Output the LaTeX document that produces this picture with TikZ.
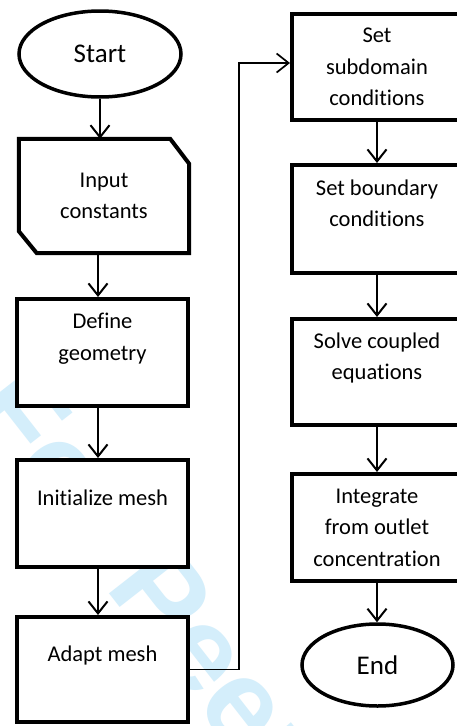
\documentclass[tikz,border=0pt]{standalone}
\usepackage{fontspec}
\setmainfont{Carlito}[Ligatures=NoCommon]
\newfontfamily\markfont{Liberation Sans}
\usetikzlibrary{shapes.geometric,arrows.meta}
\definecolor{markblue}{RGB}{212,238,251}
\begin{document}
\begin{tikzpicture}[x=1pt,y=-1pt,
  boxline/.style={line width=4pt,line join=miter},
  boxtext/.style={font=\fontsize{22.5}{31.5}\selectfont},
  flowbox/.style={boxline,draw,fill=white,rectangle,inner sep=0pt,align=center,boxtext},
  terminal/.style={draw,fill=white,ellipse,line width=3.5pt,inner sep=0pt,
    font=\fontsize{27}{30}\selectfont},
  conn/.style={line width=2pt,-{Straight Barb[length=12pt,width=19pt]}},
  loopline/.style={line width=1.7pt,-{Straight Barb[length=12pt,width=19pt]}}
]
\clip (0,0) rectangle (457,726);
\fill[white] (0,0) rectangle (457,726);

% faint watermark behind the chart
\node[font=\markfont\bfseries\fontsize{120}{120}\selectfont,text=markblue,
  rotate=-52,anchor=base west,inner sep=0pt] (wm) at (-35,409) {For Peer Review};

% left column
\node[terminal,minimum width=162pt,minimum height=86pt] (start) at (100,54) {Start};
\node[rectangle,fill=white,inner sep=0pt,align=center,minimum width=170pt,minimum height=114pt,
  boxtext] (inp) at (104,196) {Input\\constants};
\draw[boxline] (inp.north west) -- ([xshift=-19pt]inp.north east)
  -- ([yshift=-25pt]inp.north east) -- (inp.south east)
  -- ([xshift=18pt]inp.south west) -- ([yshift=22pt]inp.south west) -- cycle;
\node[flowbox,minimum width=171pt,minimum height=107pt] (geo) at (102.5,352.5) {Define\\geometry\\\mbox{}};
\node[flowbox,minimum width=171pt,minimum height=107pt] (init) at (102.5,513.5) {Initialize mesh\\\mbox{}};
\node[flowbox,minimum width=171pt,minimum height=105pt] (adapt) at (102.5,669.5) {Adapt mesh\\\mbox{}};

% right column
\node[flowbox,minimum width=170pt,minimum height=106pt] (sub) at (377,67) {Set\\subdomain\\conditions};
\node[flowbox,minimum width=170pt,minimum height=108pt] (bnd) at (377,219) {Set boundary\\conditions\\\mbox{}};
\node[flowbox,minimum width=170pt,minimum height=106pt] (solve) at (377,372) {Solve coupled\\equations\\\mbox{}};
\node[flowbox,minimum width=170pt,minimum height=107pt] (integ) at (377,527.5) {Integrate\\from outlet\\concentration};
\node[terminal,minimum width=151pt,minimum height=82pt] (end) at (377.5,665) {End};

% connectors
\draw[conn] (start.south) -- (start.south |- inp.north);
\draw[conn] ([xshift=-6pt]inp.south) -- ([xshift=-4.5pt]geo.north);
\draw[conn] ([xshift=-4.5pt]geo.south) -- ([xshift=-4.5pt]init.north);
\draw[conn] ([xshift=-4.5pt]init.south) -- ([xshift=-4.5pt]adapt.north);

\coordinate (bend) at (239,63);
\draw[loopline] (adapt.east) -| (bend) -- (bend -| sub.west);

\draw[conn] (sub.south) -- (bnd.north);
\draw[conn] (bnd.south) -- (solve.north);
\draw[conn] (solve.south) -- (integ.north);
\draw[conn] (integ.south) -- (integ.south |- end.north);
\end{tikzpicture}
\end{document}
